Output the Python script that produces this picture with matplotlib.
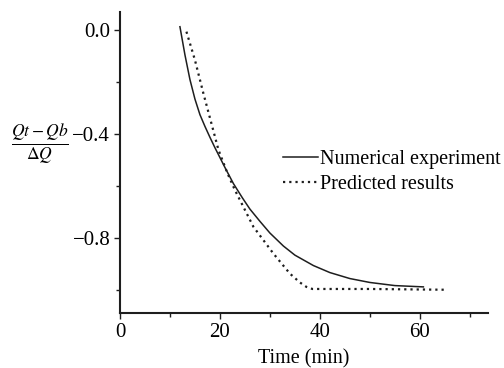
import matplotlib
matplotlib.use("Agg")
import matplotlib.pyplot as plt
from matplotlib.ticker import MultipleLocator

plt.rcParams['font.family'] = ['Liberation Serif', 'DejaVu Serif']
plt.rcParams['mathtext.fontset'] = 'stix'

num_t = [12.0, 13.0, 14.0, 15.0, 16.0, 17.0, 18.0, 19.0, 20.0, 21.0, 22.7, 24.5, 26.0, 28.0,
         30.0, 32.7, 35.0, 38.7, 42.0, 46.0, 50.0, 55.0, 60.7]
num_v = [0.013, -0.095, -0.19, -0.265, -0.325, -0.37, -0.412, -0.452, -0.49, -0.528, -0.59,
         -0.645, -0.688, -0.735, -0.78, -0.83, -0.865, -0.905, -0.932, -0.955, -0.97, -0.982, -0.987]

pred_t = [13.3, 15.0, 16.7, 18.3, 19.7, 21.5, 23.0, 26.7, 30.7, 34.0, 36.0, 37.3, 38.5, 50.0, 65.3]
pred_v = [-0.006, -0.115, -0.244, -0.359, -0.46, -0.55, -0.615, -0.756, -0.859, -0.936,
          -0.97, -0.987, -0.995, -0.995, -0.998]

labels = ["Numerical experiment", "Predicted results"]

fig = plt.figure(figsize=(5.04, 3.68), dpi=100)
ax = fig.add_axes([0.238, 0.149, 0.73, 0.818])
c = '#1e1e1e'
ax.plot(num_t, num_v, color=c, lw=1.1, ls='-', label=labels[0])
ax.plot(pred_t, pred_v, color=c, lw=1.6, ls=(0, (1, 1.8)), label=labels[1])

ax.set_xlim(0, 73.6)
ax.set_ylim(-1.088, 0.069)
ax.xaxis.set_major_locator(MultipleLocator(20))
ax.xaxis.set_minor_locator(MultipleLocator(10))
ax.yaxis.set_minor_locator(MultipleLocator(0.2))
ax.set_yticks([0.0, -0.4, -0.8])
ax.set_yticklabels(['0.0', '\u22120.4', '\u22120.8'])
for s in ['top', 'right']:
    ax.spines[s].set_visible(False)
for s in ['left', 'bottom']:
    ax.spines[s].set_linewidth(1.5)
    ax.spines[s].set_color(c)
ax.tick_params(which='both', direction='out', color=c, labelsize=15, width=1, pad=3)
ax.tick_params(which='major', length=4)
ax.tick_params(which='minor', length=3)
ax.set_xlabel('Time (min)', fontsize=14.5, labelpad=5)
fig.text(0.079, 0.605, r'$\frac{Qt-Qb}{\Delta Q}$', fontsize=18, ha='center', va='center')

leg = ax.legend(loc='upper left', frameon=False, fontsize=14.5,
                handlelength=1.75, handletextpad=0.1, labelspacing=0.3, borderaxespad=0,
                borderpad=0)
leg.set_bbox_to_anchor((283 / 504, 1 - 150 / 368), transform=fig.transFigure)

fig.savefig('out.png', dpi=100)
